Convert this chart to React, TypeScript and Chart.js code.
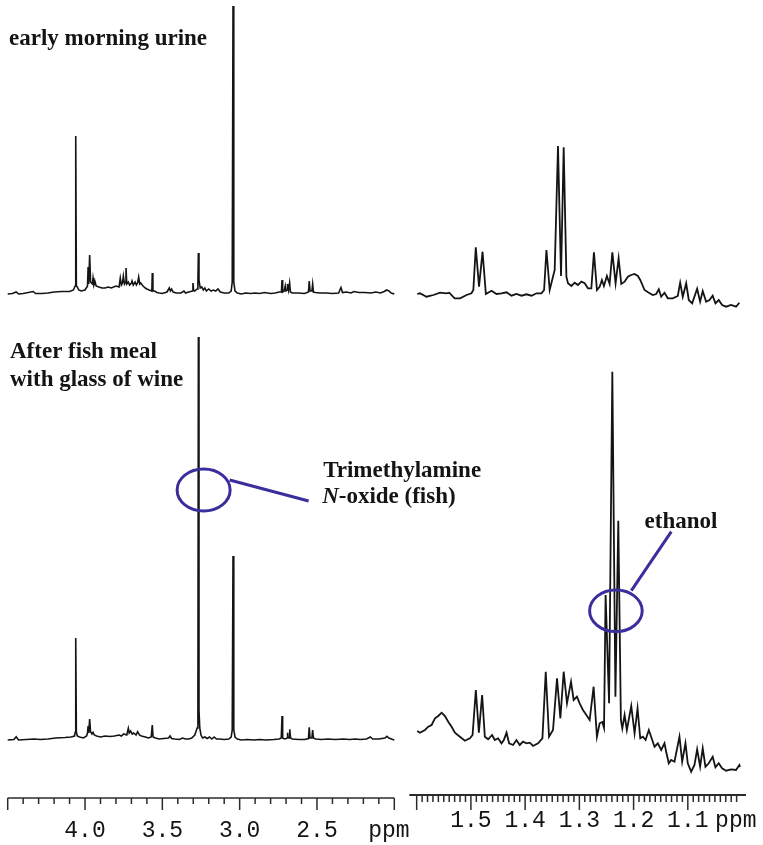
import React, { useEffect, useRef } from 'react';
import { Chart, registerables } from 'chart.js';

Chart.register(...registerables);

// ---------------- data (ppm, intensity a.u.) ----------------
// top-left: early morning urine, 4.5 - 2.0 ppm
const morningLeft: [number, number][] = [
  [4.50, 0], [4.47, 0.5], [4.445, 2], [4.43, 0], [4.40, 0.5], [4.335, 2.5], [4.32, 0.5], [4.28, 0.5], [4.24, 1],
  [4.20, 2], [4.15, 2.5], [4.10, 2.5], [4.075, 4], [4.064, 8], [4.060, 158], [4.056, 8], [4.050, 7], [4.040, 4],
  [4.025, 3], [4.00, 4], [3.984, 8], [3.980, 27], [3.976, 10], [3.970, 39], [3.964, 12], [3.952, 10], [3.948, 16],
  [3.942, 9], [3.935, 12], [3.928, 8], [3.91, 7], [3.89, 6], [3.87, 6], [3.85, 7], [3.83, 6], [3.80, 8], [3.78, 7],
  [3.772, 16], [3.765, 9], [3.758, 11], [3.752, 18], [3.745, 10], [3.738, 12], [3.735, 26], [3.730, 10], [3.720, 12],
  [3.712, 9], [3.700, 11], [3.696, 13], [3.688, 9], [3.676, 12], [3.668, 9], [3.660, 11], [3.653, 17], [3.646, 10],
  [3.640, 11], [3.625, 8], [3.61, 6], [3.60, 5], [3.585, 4], [3.568, 3], [3.565, 21], [3.561, 3], [3.55, 3],
  [3.535, 1.5], [3.52, 1], [3.50, 0.5], [3.47, 2], [3.455, 6], [3.448, 3], [3.44, 5], [3.43, 2], [3.41, 1], [3.38, 1],
  [3.36, 3], [3.35, 1], [3.33, 2], [3.305, 3], [3.302, 11], [3.298, 4], [3.29, 3], [3.275, 5], [3.270, 12],
  [3.267, 41], [3.263, 14], [3.255, 6], [3.245, 7], [3.235, 4], [3.225, 6], [3.215, 3], [3.20, 5], [3.185, 3],
  [3.17, 4], [3.155, 3], [3.14, 5], [3.125, 2], [3.10, 1], [3.07, 1], [3.055, 3], [3.048, 12], [3.043, 288],
  [3.038, 12], [3.030, 3], [3.015, 1], [2.99, 0], [2.96, 1], [2.93, 0.5], [2.90, 1], [2.87, 0.5], [2.84, 1.5],
  [2.80, 0.5], [2.77, 1], [2.745, 2], [2.730, 2], [2.726, 14], [2.722, 2], [2.712, 3], [2.705, 8], [2.700, 3],
  [2.692, 4], [2.690, 10], [2.684, 4], [2.677, 11], [2.672, 2], [2.66, 1], [2.62, 1], [2.58, 0.5], [2.555, 2],
  [2.550, 13], [2.545, 3], [2.533, 3], [2.528, 10], [2.523, 2], [2.51, 1.5], [2.48, 1], [2.44, 1], [2.40, 0.5],
  [2.36, 1], [2.345, 6.5], [2.335, 1.5], [2.31, 2], [2.28, 1], [2.26, 2.5], [2.23, 1.5], [2.19, 1.5], [2.15, 1],
  [2.12, 2], [2.09, 1], [2.065, 2.5], [2.05, 4], [2.035, 3], [2.02, 1], [2.00, 0],
];

// bottom-left: after fish meal with glass of wine, 4.5 - 2.0 ppm
const fishLeft: [number, number][] = [
  [4.50, 0], [4.46, 0.5], [4.445, 3.3], [4.43, 0], [4.38, 0.5], [4.33, 1], [4.29, 0.5], [4.24, 1], [4.19, 2],
  [4.13, 2.5], [4.09, 3], [4.068, 4], [4.063, 8], [4.060, 102], [4.056, 8], [4.050, 4], [4.035, 3], [4.01, 2],
  [3.99, 4], [3.984, 7], [3.980, 14], [3.976, 7], [3.970, 21], [3.964, 8], [3.955, 6], [3.948, 7.7], [3.940, 5],
  [3.925, 4], [3.90, 3], [3.87, 4], [3.84, 3.5], [3.81, 4], [3.78, 5], [3.765, 4], [3.75, 6], [3.73, 5],
  [3.72, 11.7], [3.714, 7], [3.705, 9], [3.695, 6], [3.685, 7], [3.670, 5], [3.660, 8.3], [3.648, 5], [3.635, 4],
  [3.61, 3], [3.59, 2], [3.572, 3], [3.565, 15], [3.560, 3], [3.545, 2], [3.52, 1], [3.49, 1.5], [3.46, 2],
  [3.45, 4], [3.44, 1.5], [3.42, 1], [3.39, 0.5], [3.37, 2], [3.35, 1], [3.33, 1], [3.31, 2], [3.29, 5],
  [3.275, 12], [3.270, 30], [3.267, 403], [3.263, 30], [3.258, 12], [3.25, 5], [3.24, 2], [3.225, 3], [3.21, 1.5],
  [3.195, 3], [3.18, 1], [3.165, 3], [3.15, 1], [3.13, 1], [3.10, 0.5], [3.07, 1], [3.055, 3], [3.048, 10],
  [3.043, 184], [3.038, 10], [3.030, 3], [3.015, 1], [2.99, 0], [2.95, 0.5], [2.91, 0], [2.87, 0.5], [2.83, 0],
  [2.78, 0.5], [2.745, 1], [2.731, 2], [2.726, 24], [2.722, 2], [2.710, 1], [2.700, 1.5], [2.692, 2], [2.690, 7.3],
  [2.686, 2], [2.680, 2], [2.676, 10.7], [2.671, 2], [2.66, 1], [2.62, 0.5], [2.58, 0.5], [2.555, 1.5],
  [2.550, 12.7], [2.545, 2], [2.533, 2], [2.528, 10], [2.523, 2], [2.51, 1], [2.47, 0.5], [2.43, 1], [2.38, 0.5],
  [2.33, 1], [2.29, 0.5], [2.25, 1], [2.22, 0.5], [2.18, 1], [2.155, 3], [2.14, 1], [2.10, 1], [2.06, 2],
  [2.048, 3.7], [2.035, 2], [2.01, 0.5], [2.00, 0],
];

// top-right: early morning urine, 1.6 - 1.0 ppm
const morningRight: [number, number][] = [
  [1.599, 16], [1.594, 16.7], [1.582, 13.3], [1.569, 15], [1.557, 17.3], [1.545, 16.7], [1.540, 17.3],
  [1.530, 11.7], [1.520, 11.7], [1.508, 15], [1.499, 16.7], [1.4955, 20], [1.491, 62.7], [1.485, 23.3],
  [1.4785, 58.3], [1.4724, 16], [1.462, 19.3], [1.4528, 16], [1.4436, 16.7], [1.4343, 17.7], [1.4251, 14.3],
  [1.416, 16], [1.4067, 14.3], [1.3975, 15.7], [1.3883, 14.3], [1.3791, 16.7], [1.3699, 16.7], [1.365, 20],
  [1.3607, 60], [1.3547, 20], [1.3455, 40], [1.3394, 164], [1.3338, 34], [1.3289, 162.7], [1.3239, 33.3],
  [1.321, 26.7], [1.3147, 24], [1.3086, 27.3], [1.3026, 25], [1.2963, 28.3], [1.2902, 26.7], [1.2841, 21.7],
  [1.2779, 21.7], [1.2731, 57.7], [1.2676, 20], [1.2626, 23.3], [1.2584, 30], [1.2547, 24], [1.2492, 34],
  [1.2442, 26], [1.2392, 57.7], [1.2332, 26.7], [1.2276, 51.7], [1.2227, 26], [1.2166, 28.3], [1.2105, 33.3],
  [1.2043, 35], [1.1982, 36], [1.1921, 34], [1.1877, 30], [1.1798, 20], [1.1719, 17.3], [1.1645, 15],
  [1.1583, 16], [1.1535, 20.7], [1.1491, 13.3], [1.143, 17.3], [1.1369, 11.7], [1.1277, 11.7], [1.1185, 14],
  [1.1141, 27.3], [1.1093, 13.3], [1.103, 26.7], [1.0982, 10], [1.092, 6.7], [1.0828, 21.3], [1.0773, 8.3],
  [1.0725, 19], [1.0662, 8.3], [1.0601, 10], [1.0541, 14.3], [1.0491, 6.7], [1.043, 10], [1.0368, 5],
  [1.0294, 3.3], [1.0202, 5], [1.011, 3.3], [1.005, 7.3],
];

// bottom-right: after fish meal with glass of wine, 1.6 - 1.0 ppm
const fishRight: [number, number][] = [
  [1.599, 49], [1.594, 47.3], [1.5847, 50], [1.5786, 53.3], [1.5724, 55], [1.5663, 61.7], [1.5602, 64],
  [1.554, 67.3], [1.5479, 64], [1.5418, 58.3], [1.5356, 53.3], [1.5295, 47.3], [1.5203, 43.3], [1.5111, 39.3],
  [1.5019, 41.7], [1.4969, 45], [1.4909, 90], [1.4853, 47.3], [1.4793, 85], [1.4743, 43.3], [1.4682, 40.7],
  [1.4609, 45], [1.4559, 40], [1.4498, 41.7], [1.4436, 36.7], [1.4393, 40], [1.4343, 47.3], [1.4296, 36.7],
  [1.4222, 35], [1.416, 40], [1.4099, 35], [1.4038, 38.3], [1.3975, 36.7], [1.3915, 37.3], [1.3854, 34],
  [1.3762, 36.7], [1.3681, 41.7], [1.362, 108.3], [1.3559, 43.3], [1.3486, 50], [1.3412, 101.7], [1.335, 61.7],
  [1.3289, 108.3], [1.3228, 76.7], [1.3154, 98.3], [1.3105, 80], [1.3044, 83.3], [1.2994, 76.7], [1.2934, 70],
  [1.2871, 65], [1.281, 60], [1.2737, 93.3], [1.2676, 43.3], [1.2626, 56.7], [1.2577, 58], [1.2545, 52],
  [1.2516, 185], [1.2452, 76.7], [1.2392, 408.3], [1.2335, 83.3], [1.2282, 259.3], [1.2234, 60], [1.2208, 51.7],
  [1.2166, 65], [1.2124, 50], [1.2043, 74], [1.1982, 46.7], [1.1927, 71.7], [1.1877, 41.7], [1.1829, 43.3],
  [1.1779, 40], [1.1719, 50], [1.1656, 40], [1.1614, 33.3], [1.1553, 36.7], [1.1491, 30], [1.143, 36.7],
  [1.1399, 28.3], [1.1351, 16.7], [1.1307, 20], [1.1246, 18.3], [1.1154, 43.3], [1.1104, 18.3], [1.1043, 36.7],
  [1.1001, 16.7], [1.0938, 8.3], [1.0877, 15], [1.0828, 30.7], [1.0773, 13.3], [1.0725, 31.7], [1.0675, 13.3],
  [1.0614, 16.7], [1.0541, 23.3], [1.0491, 12.7], [1.043, 16.7], [1.0368, 11.7], [1.0294, 9.3], [1.0202, 10.7],
  [1.011, 10], [1.005, 15], [1.0037, 13],
];

// axis tick labels
const leftTickValues = [4.0, 3.5, 3.0, 2.5, 2.035];
const leftTickLabels = ['4.0', '3.5', '3.0', '2.5', 'ppm'];
const rightTickValues = [1.5, 1.4, 1.3, 1.2, 1.1, 1.0115];
const rightTickLabels = ['1.5', '1.4', '1.3', '1.2', '1.1', 'ppm'];

// text
const sampleLabels = ['early morning urine', 'After fish meal', 'with glass of wine'];
const tmaoLabels = ['Trimethylamine', 'N', '-oxide (fish)'];
const ethanolLabel = 'ethanol';
// annotation anchors (ppm, intensity on the lower spectrum)
const tmaoMarker: [number, number] = [3.233, 250];
const ethanolMarker: [number, number] = [1.2326, 169.2];

// ---------------- styles ----------------
const W = 763;
const H = 845;
const INK = '#141414';
const AXIS_INK = '#2b2b2b';
const ANNOT = '#3a2e9c';
const SERIF = "'Liberation Serif', 'Times New Roman', serif";
const MONO = "'Liberation Mono', 'Courier New', monospace";

const toPoints = (arr: [number, number][]) => arr.map(([x, y]) => ({ x, y }));

function axisPlugin(id: string, start: number, end: number, step: number, majorEvery: number, majorLen: number, minorLen: number, lineW: number) {
  return {
    id,
    afterDraw(chart: any) {
      const { ctx, chartArea, scales } = chart;
      const xs = scales.x;
      const y0 = chartArea.bottom;
      ctx.save();
      ctx.strokeStyle = AXIS_INK;
      ctx.lineWidth = lineW;
      ctx.beginPath();
      ctx.moveTo(chartArea.left, y0);
      ctx.lineTo(chartArea.right, y0);
      ctx.stroke();
      ctx.lineWidth = 1.5;
      const n = Math.round((start - end) / step);
      for (let i = 0; i <= n; i++) {
        const v = start - i * step;
        const px = xs.getPixelForValue(v);
        const len = i % majorEvery === 0 ? majorLen : minorLen;
        ctx.beginPath();
        ctx.moveTo(px, y0);
        ctx.lineTo(px, y0 + len);
        ctx.stroke();
      }
      ctx.restore();
    },
  };
}

const leftAnnotations = {
  id: 'leftAnnotations',
  afterDraw(chart: any) {
    const { ctx, scales } = chart;
    ctx.save();
    ctx.fillStyle = INK;
    ctx.textBaseline = 'alphabetic';
    ctx.textAlign = 'left';
    ctx.font = `bold 23px ${SERIF}`;
    ctx.fillText(sampleLabels[0], 9, 45);
    ctx.fillText(sampleLabels[1], 10, 358);
    ctx.fillText(sampleLabels[2], 10, 386);

    const cx = scales.x.getPixelForValue(tmaoMarker[0]);
    const cy = scales.yBot.getPixelForValue(tmaoMarker[1]);
    ctx.strokeStyle = ANNOT;
    ctx.lineWidth = 3;
    ctx.beginPath();
    ctx.ellipse(cx, cy, 26.5, 21, 0, 0, Math.PI * 2);
    ctx.stroke();
    ctx.beginPath();
    ctx.moveTo(cx + 26, cy - 10);
    ctx.lineTo(cx + 105, cy + 11);
    ctx.stroke();

    ctx.fillText(tmaoLabels[0], cx + 119.5, cy - 13.3);
    ctx.font = `italic bold 23px ${SERIF}`;
    ctx.fillText(tmaoLabels[1], cx + 118.5, cy + 13.3);
    const nw = ctx.measureText(tmaoLabels[1]).width;
    ctx.font = `bold 23px ${SERIF}`;
    ctx.fillText(tmaoLabels[2], cx + 118.5 + nw, cy + 13.3);
    ctx.restore();
  },
};

const rightAnnotations = {
  id: 'rightAnnotations',
  afterDraw(chart: any) {
    const { ctx, scales } = chart;
    const cx = scales.x.getPixelForValue(ethanolMarker[0]);
    const cy = scales.yBot.getPixelForValue(ethanolMarker[1]);
    ctx.save();
    ctx.strokeStyle = ANNOT;
    ctx.lineWidth = 3;
    ctx.beginPath();
    ctx.ellipse(cx, cy, 26.3, 20.8, 0, 0, Math.PI * 2);
    ctx.stroke();
    ctx.beginPath();
    ctx.moveTo(cx + 15.4, cy - 20.1);
    ctx.lineTo(cx + 55.4, cy - 79.1);
    ctx.stroke();
    ctx.fillStyle = INK;
    ctx.font = `bold 23px ${SERIF}`;
    ctx.textBaseline = 'alphabetic';
    ctx.fillText(ethanolLabel, cx + 28.7, cy - 82.8);
    ctx.restore();
  },
};

function lineDataset(label: string, arr: [number, number][], yAxisID: string, width: number) {
  return {
    label,
    data: toPoints(arr),
    yAxisID,
    borderColor: INK,
    borderWidth: width,
    pointRadius: 0,
    tension: 0,
    fill: false,
    clip: false as any,
  };
}

function leftConfig(): any {
  return {
    type: 'line',
    data: {
      datasets: [
        lineDataset('early morning urine', morningLeft, 'yTop', 1.6),
        lineDataset('After fish meal with glass of wine', fishLeft, 'yBot', 1.6),
      ],
    },
    options: {
      animation: false,
      responsive: false,
      devicePixelRatio: 1,
      events: [],
      layout: { padding: { left: 7.7, right: W - 394.3, top: 0, bottom: 0 } },
      plugins: { legend: { display: false }, tooltip: { enabled: false }, title: { display: false } },
      scales: {
        x: {
          type: 'linear',
          min: 2.0,
          max: 4.5,
          reverse: true,
          afterBuildTicks: (s: any) => {
            s.ticks = leftTickValues.map((v) => ({ value: v }));
          },
          afterFit: (s: any) => {
            s.height = 47;
          },
          grid: { display: false, drawTicks: true, tickLength: 12 },
          border: { display: false },
          ticks: {
            autoSkip: false,
            maxRotation: 0,
            minRotation: 0,
            padding: 7,
            color: INK,
            font: { family: MONO, size: 23 },
            callback: (_v: any, i: number) => leftTickLabels[i],
          },
        },
        yTop: { type: 'linear', display: false, min: -504, max: 294 },
        yBot: { type: 'linear', display: false, min: -58, max: 740 },
      },
    },
    plugins: [axisPlugin('leftAxis', 4.5, 2.0, 0.1, 5, 12, 6, 1.6), leftAnnotations],
  };
}

function rightConfig(): any {
  return {
    type: 'line',
    data: {
      datasets: [
        lineDataset('early morning urine', morningRight, 'yTop', 1.8),
        lineDataset('After fish meal with glass of wine', fishRight, 'yBot', 1.8),
      ],
    },
    options: {
      animation: false,
      responsive: false,
      devicePixelRatio: 1,
      events: [],
      layout: { padding: { left: 409.3, right: W - 746, top: 0, bottom: 0 } },
      plugins: { legend: { display: false }, tooltip: { enabled: false }, title: { display: false } },
      scales: {
        x: {
          type: 'linear',
          min: 0.9927,
          max: 1.6136,
          reverse: true,
          afterBuildTicks: (s: any) => {
            s.ticks = rightTickValues.map((v) => ({ value: v }));
          },
          afterFit: (s: any) => {
            s.height = 50;
          },
          grid: { display: false, drawTicks: true, tickLength: 10 },
          border: { display: false },
          ticks: {
            autoSkip: false,
            maxRotation: 0,
            minRotation: 0,
            padding: 2,
            color: INK,
            font: { family: MONO, size: 23 },
            callback: (_v: any, i: number) => rightTickLabels[i],
          },
        },
        yTop: { type: 'linear', display: false, min: -485, max: 310 },
        yBot: { type: 'linear', display: false, min: -15, max: 780 },
      },
    },
    plugins: [axisPlugin('rightAxis', 1.6, 1.01, 0.01, 10, 15, 7, 2), rightAnnotations],
  };
}

export default function App() {
  const leftRef = useRef<HTMLCanvasElement>(null);
  const rightRef = useRef<HTMLCanvasElement>(null);

  useEffect(() => {
    const left = new Chart(leftRef.current as HTMLCanvasElement, leftConfig());
    const right = new Chart(rightRef.current as HTMLCanvasElement, rightConfig());
    return () => {
      left.destroy();
      right.destroy();
    };
  }, []);

  const canvasStyle: React.CSSProperties = { position: 'absolute', left: 0, top: 0, width: W, height: H };
  return (
    <div style={{ position: 'absolute', left: 0, top: 0, width: W, height: H, background: '#fff', overflow: 'hidden' }}>
      <canvas ref={leftRef} width={W} height={H} style={canvasStyle} />
      <canvas ref={rightRef} width={W} height={H} style={canvasStyle} />
    </div>
  );
}
